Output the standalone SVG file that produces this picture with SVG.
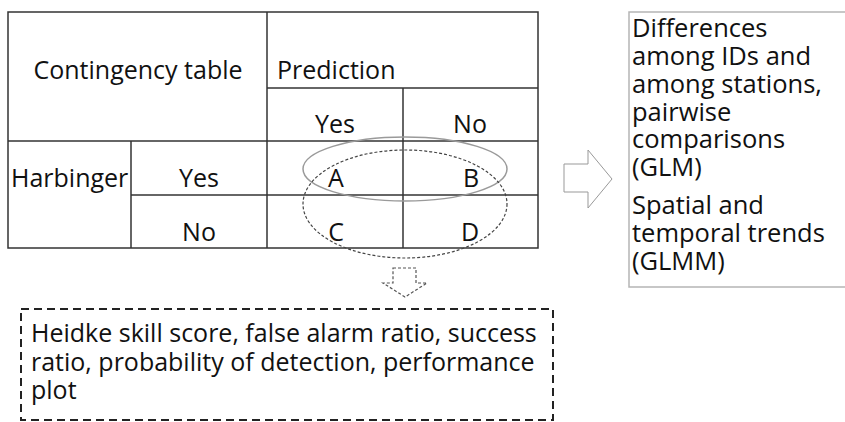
<svg xmlns="http://www.w3.org/2000/svg" width="845" height="422" viewBox="0 0 845 422">
<style>
text{font-family:"Open Sans","Liberation Sans",sans-serif;font-size:25px;fill:#111}
.c{text-anchor:middle}
.r{font-size:25.5px}
.tl{stroke:#333;stroke-width:1.5;fill:none}
</style>
<rect width="845" height="422" fill="#fff"/>
<g id="table">
<rect class="tl" x="8" y="12" width="530" height="236"/>
<line class="tl" x1="267" y1="12" x2="267" y2="248"/>
<line class="tl" x1="267" y1="88" x2="538" y2="88"/>
<line class="tl" x1="403" y1="88" x2="403" y2="248"/>
<line class="tl" x1="8" y1="141" x2="538" y2="141"/>
<line class="tl" x1="131" y1="141" x2="131" y2="248"/>
<line class="tl" x1="131" y1="195" x2="538" y2="195"/>
<text class="c" x="138" y="79">Contingency table</text>
<text x="277" y="79">Prediction</text>
<text class="c" x="335" y="133">Yes</text>
<text class="c" x="470" y="133">No</text>
<text x="11" y="187">Harbinger</text>
<text class="c" x="199" y="187">Yes</text>
<text class="c" x="199" y="241">No</text>
<text class="c" x="336" y="187">A</text>
<text class="c" x="471" y="187">B</text>
<text class="c" x="336" y="241">C</text>
<text class="c" x="470" y="241">D</text>
</g>
<g id="groupings">
<ellipse cx="405" cy="169" rx="102" ry="32" fill="none" stroke="#9a9a9a" stroke-width="1.5"/>
<ellipse cx="405" cy="204" rx="102" ry="54" fill="none" stroke="#444" stroke-width="1.2" stroke-dasharray="3,2"/>
</g>
<g id="connectors">
<path d="M393,268 H416 V283 H427 L405,297 L383,283 H393 Z" fill="#fff" stroke="#555" stroke-width="1.2" stroke-dasharray="3,2"/>
<path d="M564,164 H588 V150 L612,179 L588,208 V192 H564 Z" fill="#fff" stroke="#999" stroke-width="1"/>
</g>
<g id="models">
<rect x="629" y="12" width="220" height="275" fill="#fff" stroke="#b5b5b5" stroke-width="1.5"/>
<text class="r" x="632" y="37">Differences</text>
<text class="r" x="632" y="65">among IDs and</text>
<text class="r" x="632" y="93">among stations,</text>
<text class="r" x="632" y="121">pairwise</text>
<text class="r" x="632" y="148">comparisons</text>
<text class="r" x="632" y="176">(GLM)</text>
<text class="r" x="632" y="214">Spatial and</text>
<text class="r" x="632" y="242">temporal trends</text>
<text class="r" x="632" y="270">(GLMM)</text>
</g>
<g id="scores">
<rect x="21" y="309" width="532" height="111" fill="none" stroke="#222" stroke-width="2" stroke-dasharray="8,5"/>
<text x="31" y="342">Heidke skill score, false alarm ratio, success</text>
<text x="31" y="371">ratio, probability of detection, performance</text>
<text x="31" y="399">plot</text>
</g>
</svg>
